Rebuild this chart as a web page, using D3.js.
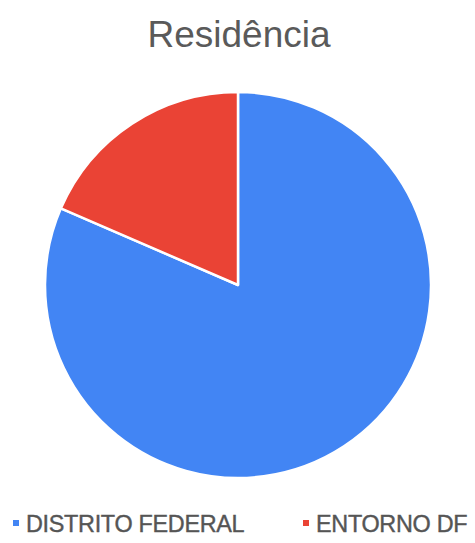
<!DOCTYPE html>
<html>
<head>
    <meta charset="utf-8">
    <script src="https://d3js.org/d3.v7.min.js"></script>
    <style>
        body { margin: 0; background: #fff; }
        svg text { font-family: "Liberation Sans", Arial, sans-serif; }
    </style>
</head>
<body>
    <div id="chart"></div>
    <script>
        // data
        const categories = ["DISTRITO FEDERAL", "ENTORNO DF"];
        const values = [81.5, 18.5];
        const colors = ["#4285f4", "#ea4335"];
        const title = "Residência";

        const width = 475, height = 543;
        const cx = 238, cy = 285, radius = 193;

        const svg = d3.select("#chart")
            .append("svg")
            .attr("width", width)
            .attr("height", height);

        // title
        svg.append("text")
            .attr("x", 239)
            .attr("y", 47)
            .attr("text-anchor", "middle")
            .style("font-size", "37px")
            .style("fill", "#5a5a5a")
            .text(title);

        const data = categories.map((c, i) => ({ name: c, value: values[i] }));

        const pie = d3.pie()
            .sort(null)
            .value(d => d.value);

        const arc = d3.arc()
            .innerRadius(0)
            .outerRadius(radius);

        const g = svg.append("g")
            .attr("transform", `translate(${cx}, ${cy})`);

        g.selectAll("path")
            .data(pie(data))
            .join("path")
            .attr("d", arc)
            .style("fill", (d, i) => colors[i])
            .style("stroke", "#fff")
            .style("stroke-width", 2.5)
            .style("stroke-linejoin", "round");

        // legend
        const legendX = [13, 303];
        const legend = svg.selectAll("g.legend")
            .data(data)
            .join("g")
            .attr("class", "legend")
            .attr("transform", (d, i) => `translate(${legendX[i]}, 523)`);

        legend.append("rect")
            .attr("x", 0)
            .attr("y", -3)
            .attr("width", 6)
            .attr("height", 6)
            .style("fill", (d, i) => colors[i]);

        legend.append("text")
            .attr("x", 13)
            .attr("y", 9)
            .style("font-size", "23.4px")
            .style("fill", "#555")
            .style("stroke", "#555")
            .style("stroke-width", 0.4)
            .style("letter-spacing", "-0.3px")
            .text(d => d.name);
    </script>
</body>
</html>
